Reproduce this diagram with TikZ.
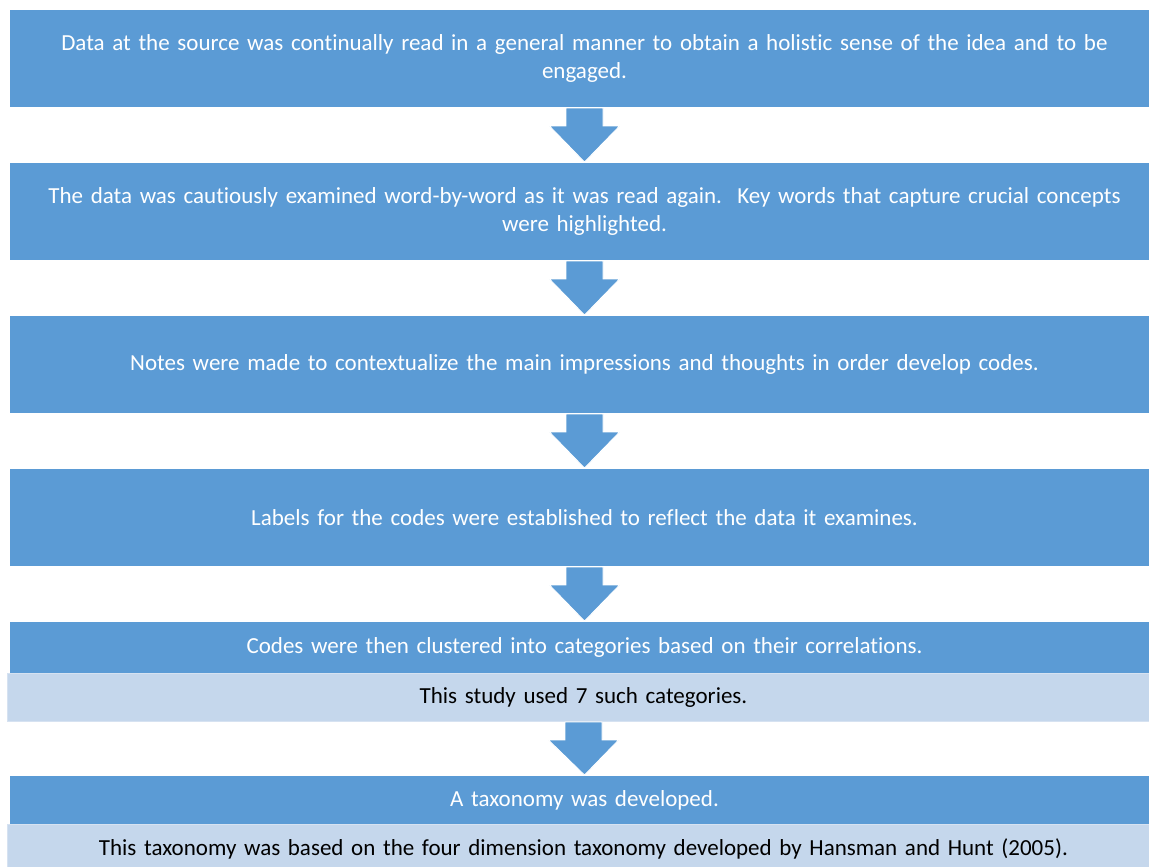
\documentclass[tikz,border=0pt]{standalone}
\usepackage{fontspec}
\setmainfont{Carlito}[Ligatures={NoCommon}]
\usetikzlibrary{calc}
\definecolor{stepblue}{HTML}{5B9BD5}
\definecolor{noteblue}{HTML}{C5D7EC}
\definecolor{noteedge}{HTML}{D6E2F1}
\tikzset{
  stepbox/.style={draw=white, line width=1pt, fill=stepblue, text=white,
    anchor=north west, minimum width=1150, inner sep=0pt, align=center,
    text width=1150, font=\fontsize{23}{28}\selectfont},
  notebox/.style={draw=noteedge, line width=1pt, fill=noteblue, text=black,
    anchor=north west, minimum width=1152, inner sep=0pt, align=center,
    text width=1152, font=\fontsize{23}{28}\selectfont},
  flowarrow/.style={fill=stepblue, draw=white, line width=0.8pt, line join=miter}
}
% block arrow from the bottom of one box to the top of the next
\newcommand{\flowdown}[2]{%
  \path[flowarrow] ($(#1.south)+(-18.5,0)$) -- ++(0,18) -- ++(-16.5,0)
    -- (#2.north) -- ($(#1.south)+(35,18)$) -- ++(-16.5,0) -- ++(0,-18) -- cycle;}
\begin{document}
\begin{tikzpicture}[x=1pt,y=-1pt]
\useasboundingbox (0,0) rectangle (1149,867);
\fill[white] (0,0) rectangle (1149,867);

\node[stepbox, minimum height=98] (s1) at (9,9)
  {Data at the source was continually read in a general manner to obtain a holistic sense of the idea and to be\\engaged.};
\node[stepbox, minimum height=98] (s2) at (9,162)
  {The data was cautiously examined word-by-word as it was read again.\ \ Key words that capture crucial concepts\\were highlighted.};
\node[stepbox, minimum height=98] (s3) at (9,315)
  {Notes were made to contextualize the main impressions and thoughts in order develop codes.};
\node[stepbox, minimum height=98] (s4) at (9,468)
  {Labels for the codes were established to reflect the data it examines.};
\node[stepbox, minimum height=52] (s5) at (9,621)
  {Codes were then clustered into categories based on their correlations.};
\node[notebox, minimum height=48] (n5) at (7,673)
  {This study used 7 such categories.};
\node[stepbox, minimum height=49] (s6) at (9,775)
  {A taxonomy was developed.};
\node[notebox, minimum height=48] (n6) at (7,824)
  {This taxonomy was based on the four dimension taxonomy developed by Hansman and Hunt (2005).};

\flowdown{s1}{s2}
\flowdown{s2}{s3}
\flowdown{s3}{s4}
\flowdown{s4}{s5}
\flowdown{n5}{s6}
\end{tikzpicture}
\end{document}
